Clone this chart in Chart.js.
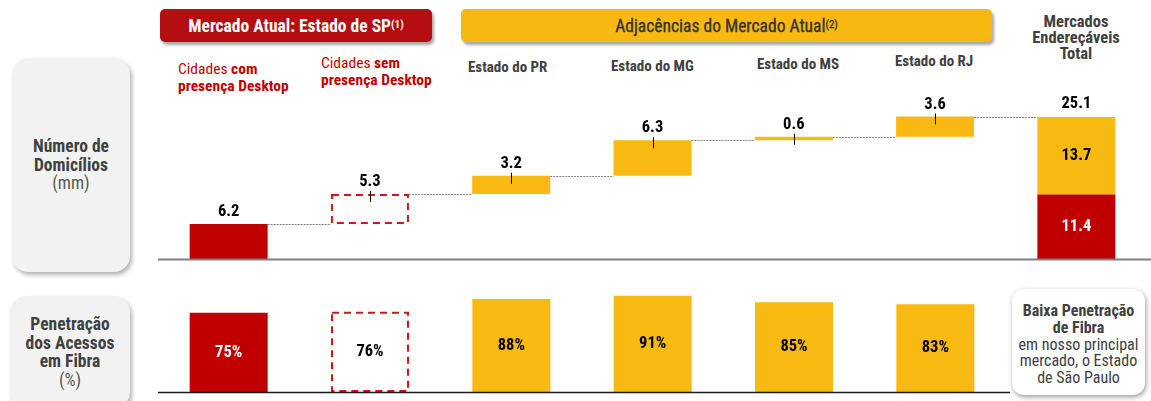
<!DOCTYPE html>
<html><head><meta charset="utf-8">
<script src="https://cdn.jsdelivr.net/npm/chart.js@4.4.1/dist/chart.umd.min.js"></script>
<style>
html,body{margin:0;padding:0;background:#fff;width:1151px;height:401px;overflow:hidden;position:relative;
 font-family:"Liberation Sans Narrow","Roboto Condensed","Open Sans",sans-serif;}
.abs{position:absolute;}
.hdr{border-radius:5px;box-shadow:2px 3px 3px rgba(0,0,0,.35);display:flex;align-items:center;justify-content:center;font-size:17.5px;}
.hdr sup{font-size:11px;vertical-align:top;position:relative;top:-1px;}
.cat{font-size:15px;font-weight:bold;color:#404040;line-height:16.5px;white-space:nowrap;}
.red{color:#c00000;}
.side{background:#f2f2f2;border-radius:16px;box-shadow:2px 3px 4px rgba(0,0,0,.3);display:flex;align-items:center;justify-content:center;text-align:center;color:#404040;font-size:17.5px;line-height:18.5px;}
.note{background:#fff;border-radius:12px;box-shadow:1px 2px 5px rgba(0,0,0,.4);display:flex;align-items:center;justify-content:center;text-align:center;color:#404040;font-size:16px;line-height:16.8px;box-sizing:border-box;padding-top:6px;}
canvas{position:absolute;}
</style></head>
<body>
<div class="abs hdr" style="left:160px;top:9px;width:272px;height:33px;background:#b40e12;color:#fff;font-weight:bold;">Mercado Atual: Estado de SP<sup>(1)</sup></div>
<div class="abs hdr" style="left:461px;top:9px;width:531px;height:33px;background:#f6b811;color:#333;-webkit-text-stroke:0.3px #333;">Adjacências do Mercado Atual<sup>(2)</sup></div>
<div class="abs cat" style="left:1006px;top:14px;width:140px;text-align:center;font-size:16.5px;line-height:16px;">Mercados<br>Endereçáveis<br>Total</div>

<div id="catLabels"></div>

<div class="abs side" style="left:12px;top:58px;width:118px;height:214px;"><div><b>Número de<br>Domicílios</b><br><span style="color:#595959">(mm)</span></div></div>
<div class="abs side" style="left:10px;top:296px;width:120px;height:112px;"><div><b>Penetração<br>dos Acessos<br>em Fibra</b><br><span style="color:#595959">(%)</span></div></div>
<div class="abs note" style="left:1012px;top:289px;width:133px;height:106px;"><div><b>Baixa Penetração<br>de Fibra</b><br>em nosso principal<br>mercado, o Estado<br>de São Paulo</div></div>

<canvas id="top" width="993" height="185" style="left:158px;top:80px;"></canvas>
<canvas id="bot" width="858" height="115" style="left:158px;top:280px;"></canvas>

<script>
// ---- data ----
const categories = ['Cidades com presença Desktop','Cidades sem presença Desktop','Estado do PR','Estado do MG','Estado do MS','Estado do RJ','Mercados Endereçáveis Total'];
const households = [6.2, 5.3, 3.2, 6.3, 0.6, 3.6];
const totalSP = 11.4;
const totalAdj = 13.7;
const totalAll = 25.1;
const penetration = [75, 76, 88, 91, 85, 83];

// ---- category labels (html) ----
const catHtml = [
  '<span class="red" style="font-weight:normal">Cidades </span><span class="red">com</span><br><span class="red">presença Desktop</span>',
  '<span class="red" style="font-weight:normal">Cidades </span><span class="red">sem</span><br><span class="red">presença Desktop</span>',
  categories[2], categories[3], categories[4], categories[5]
];
const catPos = [[178,61],[321,55],[468,59],[611,58],[757,56],[895,53]];
document.getElementById('catLabels').innerHTML = catHtml.map((h,i)=>
  `<div class="abs cat" style="left:${catPos[i][0]}px;top:${catPos[i][1]}px;${i<2?'font-size:15.5px;':''}">${h}</div>`).join('');

// ---- waterfall table built from the data ----
const RED = '#c00000', YEL = '#f8b912';
const starts = []; let run = 0;
households.forEach(v => { starts.push(run); run += v; });
const n = categories.length;
const solidRed = new Array(n).fill(null);
const dashed = new Array(n).fill(null);
const yellow = new Array(n).fill(null);
solidRed[0] = [starts[0], starts[0] + households[0]];
dashed[1] = [starts[1], starts[1] + households[1]];
for (let i = 2; i < households.length; i++) yellow[i] = [starts[i], starts[i] + households[i]];
solidRed[n-1] = [0, totalSP];
yellow[n-1] = [totalSP, totalAll];

const FONT = '"Liberation Sans Narrow","Roboto Condensed","Open Sans",sans-serif';

function dashedRect(chart, dsIndex) {
  const ctx = chart.ctx;
  chart.getDatasetMeta(dsIndex).data.forEach((el, i) => {
    if (chart.data.datasets[dsIndex].data[i] == null) return;
    const p = el.getProps(['x','y','base','width'], true);
    const l = p.x - p.width/2, r = p.x + p.width/2;
    const t = Math.min(p.y, p.base), b = Math.max(p.y, p.base);
    ctx.save();
    ctx.strokeStyle = '#d0161c'; ctx.lineWidth = 2; ctx.setLineDash([7,5]);
    ctx.strokeRect(l+1, t+1, r-l-2, b-t-2);
    ctx.restore();
  });
}

const topPlugin = {
  id: 'topPlugin',
  afterDatasetsDraw(chart) {
    const ctx = chart.ctx, y = chart.scales.y, x = chart.scales.x;
    const y0 = Math.round(y.getPixelForValue(0)) + 0.5;
    ctx.save();
    ctx.strokeStyle = '#808080'; ctx.lineWidth = 2;
    ctx.beginPath(); ctx.moveTo(0, y0); ctx.lineTo(chart.width, y0); ctx.stroke();
    ctx.restore();
    dashedRect(chart, 1);
    const barAt = i => {
      for (let d = 0; d < 3; d++) {
        if (chart.data.datasets[d].data[i] != null && !(i === n-1 && d === 0))
          return chart.getDatasetMeta(d).data[i].getProps(['x','y','base','width'], true);
      }
    };
    ctx.save();
    for (let i = 0; i < n - 1; i++) {
      const a = barAt(i), b = barAt(i+1);
      const level = starts[i] + households[i];
      const py = Math.round(y.getPixelForValue(i === n-2 ? totalAll : level)) + 0.5;
      ctx.strokeStyle = '#7f7f7f'; ctx.lineWidth = 1; ctx.setLineDash([2,1]);
      ctx.beginPath(); ctx.moveTo(a.x + a.width/2, py); ctx.lineTo(b.x - b.width/2, py); ctx.stroke();
    }
    ctx.setLineDash([]);
    ctx.font = 'bold 16.5px ' + FONT;
    ctx.textAlign = 'center'; ctx.textBaseline = 'middle';
    for (let i = 0; i < households.length; i++) {
      const p = barAt(i);
      const top = Math.min(p.y, p.base);
      if (i > 0) {
        ctx.strokeStyle = '#000'; ctx.lineWidth = 1;
        ctx.beginPath(); ctx.moveTo(Math.round(p.x)+0.5, top - 3); ctx.lineTo(Math.round(p.x)+0.5, top + 8); ctx.stroke();
      }
      ctx.fillStyle = '#000';
      ctx.fillText(households[i].toFixed(1), p.x, top - 12);
    }
    const cx = x.getPixelForValue(n-1);
    ctx.fillStyle = '#000';
    ctx.fillText(totalAll.toFixed(1), cx, y.getPixelForValue(totalAll) - 13);
    ctx.fillText(totalAdj.toFixed(1), cx, y.getPixelForValue((totalSP + totalAll)/2));
    ctx.fillStyle = '#fff';
    ctx.fillText(totalSP.toFixed(1), cx, y.getPixelForValue(totalSP/2));
    ctx.restore();
  }
};

const common = {
  responsive: false, animation: false, devicePixelRatio: 1,
  plugins: { legend: { display: false }, tooltip: { enabled: false } },
};

new Chart(document.getElementById('top'), {
  type: 'bar',
  data: {
    labels: categories,
    datasets: [
      { data: solidRed, backgroundColor: RED, grouped: false, categoryPercentage: 1, barPercentage: 0.552 },
      { data: dashed, backgroundColor: 'rgba(0,0,0,0)', grouped: false, categoryPercentage: 1, barPercentage: 0.552 },
      { data: yellow, backgroundColor: YEL, grouped: false, categoryPercentage: 1, barPercentage: 0.552 }
    ]
  },
  options: Object.assign({}, common, {
    layout: { padding: { left: 0, right: 4, top: 0, bottom: 6 } },
    scales: {
      x: { display: false },
      y: { display: false, min: 0, max: 31.64 }
    }
  }),
  plugins: [topPlugin]
});

const botCats = categories.slice(0, penetration.length);
const penSolid = penetration.map((v,i) => i === 1 ? null : v);
const penDashed = penetration.map((v,i) => i === 1 ? v : null);
const penColors = penetration.map((v,i) => i === 0 ? RED : YEL);

const botPlugin = {
  id: 'botPlugin',
  afterDatasetsDraw(chart) {
    const ctx = chart.ctx, y = chart.scales.y;
    dashedRect(chart, 1);
    const y0 = Math.round(y.getPixelForValue(0)) + 0.5;
    ctx.save();
    ctx.strokeStyle = '#1a1a1a'; ctx.lineWidth = 1.5;
    ctx.beginPath(); ctx.moveTo(0, y0); ctx.lineTo(chart.width - 6, y0); ctx.stroke();
    ctx.font = 'bold 16.5px ' + FONT;
    ctx.textAlign = 'center'; ctx.textBaseline = 'middle';
    penetration.forEach((v, i) => {
      const ds = i === 1 ? 1 : 0;
      const p = chart.getDatasetMeta(ds).data[i].getProps(['x','y','base'], true);
      ctx.fillStyle = i === 0 ? '#fff' : '#000';
      ctx.fillText(v + '%', p.x, (p.y + p.base) / 2);
    });
    ctx.restore();
  }
};

new Chart(document.getElementById('bot'), {
  type: 'bar',
  data: {
    labels: botCats,
    datasets: [
      { data: penSolid, backgroundColor: penColors, grouped: false, categoryPercentage: 1, barPercentage: 0.552 },
      { data: penDashed, backgroundColor: 'rgba(0,0,0,0)', grouped: false, categoryPercentage: 1, barPercentage: 0.552 }
    ]
  },
  options: Object.assign({}, common, {
    layout: { padding: { left: 0, right: 10, top: 0, bottom: 3 } },
    scales: {
      x: { display: false },
      y: { display: false, min: 0, max: 106 }
    }
  }),
  plugins: [botPlugin]
});
</script>
</body></html>
